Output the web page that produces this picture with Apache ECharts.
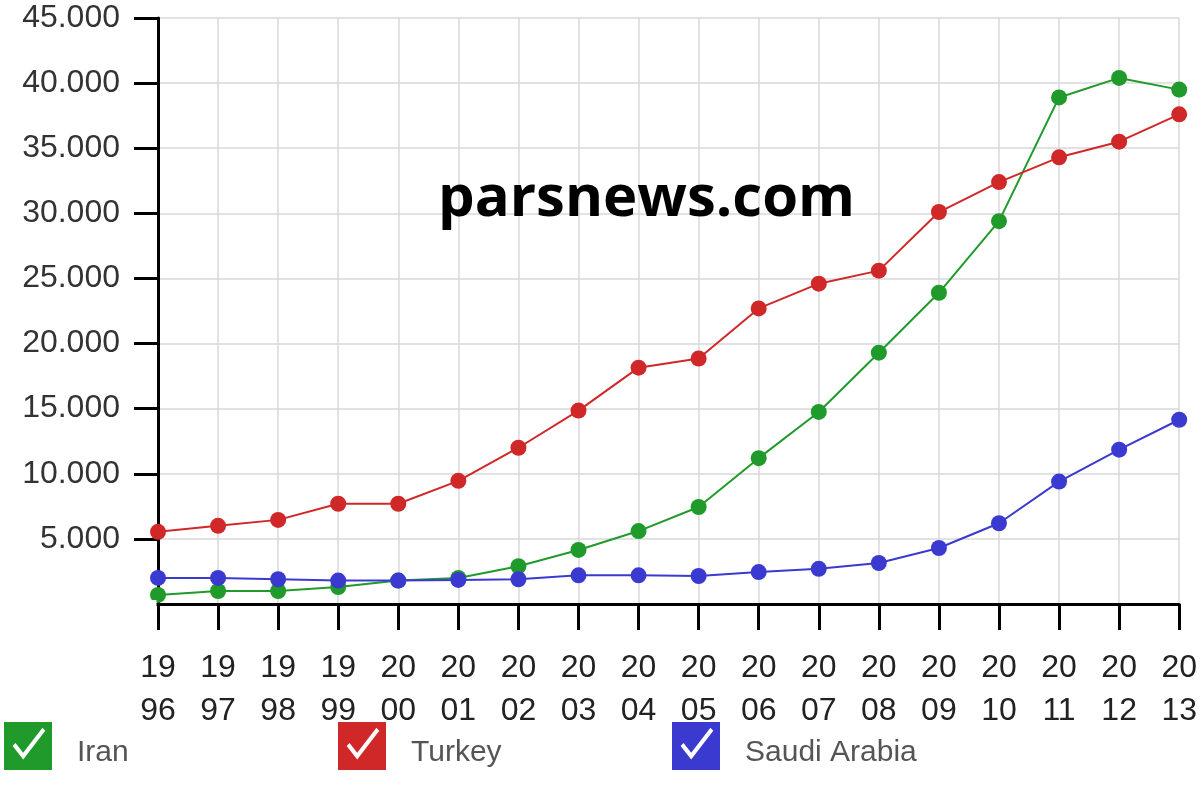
<!DOCTYPE html>
<html>
<head>
<meta charset="utf-8">
<script src="https://cdn.jsdelivr.net/npm/echarts@6/dist/echarts.min.js"></script>
<style>html,body{margin:0;padding:0;background:#fff}#c{width:1200px;height:794px}</style>
</head>
<body>
<div id="c"></div>
<script>
const years = ['1996','1997','1998','1999','2000','2001','2002','2003','2004','2005','2006','2007','2008','2009','2010','2011','2012','2013'];
const iran = [700,1000,1000,1300,1800,2000,2900,4150,5600,7450,11200,14750,19300,23900,29400,38900,40400,39500];
const turkey = [5540,6000,6460,7700,7700,9460,12000,14850,18150,18850,22700,24600,25600,30100,32400,34300,35500,37600];
const saudi = [2000,2000,1900,1800,1800,1850,1900,2200,2200,2150,2450,2700,3150,4300,6200,9400,11850,14150];
const seriesNames = ['Iran','Turkey','Saudi Arabia'];
const colors = ['#1f9a2b','#d02828','#3a3ad0'];

const checkIcon = 'path://M0,0H100V100H0Z M18,50 L40,78 L86,18 L80,12 L40,64 L24,44Z';

const chart = echarts.init(document.getElementById('c'), null, {renderer:'canvas'});
const mkSeries = (name, data, color) => ({
  name, type:'line', data,
  symbol:'circle', symbolSize:16,
  itemStyle:{color},
  lineStyle:{color, width:2},
  emphasis:{disabled:true},
  animation:false
});
const mkLegend = (name, left) => ({
  data:[{name, icon:checkIcon}],
  left, top:717, orient:'horizontal',
  itemWidth:48, itemHeight:48,
  selectedMode:false,
  formatter: n => '{t|' + n + '}',
  textStyle:{
    fontFamily:'Liberation Sans, Arial, sans-serif', fontSize:30, color:'#555',
    rich:{t:{fontFamily:'Liberation Sans, Arial, sans-serif', fontSize:30, color:'#555', padding:[14,0,0,20]}}
  }
});
chart.setOption({
  backgroundColor:'#fff',
  animation:false,
  color:colors,
  grid:{left:158, right:20, top:18, bottom:190, containLabel:false},
  xAxis:{
    type:'category', data:years, boundaryGap:false,
    axisLine:{lineStyle:{color:'#000', width:3}},
    axisTick:{show:true, alignWithLabel:true, length:26, lineStyle:{color:'#000', width:3}},
    axisLabel:{
      margin:43, fontSize:32, lineHeight:43, color:'#222',
      fontFamily:'Liberation Sans, Arial, sans-serif',
      formatter:v => v.slice(0,2)+'\n'+v.slice(2)
    },
    splitLine:{show:true, lineStyle:{color:'#d8d8d8', width:1.5}}
  },
  yAxis:{
    type:'value', min:0, max:45000, interval:5000,
    axisLine:{show:true, lineStyle:{color:'#000', width:3}},
    axisTick:{show:true, length:24, lineStyle:{color:'#000', width:3}},
    axisLabel:{
      margin:38, fontSize:32, color:'#333',
      fontFamily:'Liberation Sans, Arial, sans-serif',
      formatter:v => v === 0 ? '' : (v/1000)+'.000'
    },
    splitLine:{show:true, lineStyle:{color:'#d8d8d8', width:1.5}}
  },
  legend:[mkLegend(seriesNames[0],-1), mkLegend(seriesNames[1],333), mkLegend(seriesNames[2],667)],
  graphic:{
    elements:[
      {
        type:'text', left:438, top:170, z:100,
        style:{text:'parsnews.com', fontFamily:'Open Sans, sans-serif', fontWeight:'bold', fontSize:58, fill:'#000'}
      },
      {
        type:'rect', x:120, y:600, z:200, zlevel:1, silent:true,
        shape:{x:0, y:0, width:36.5, height:8},
        style:{fill:'#ffffff'}
      }
    ]
  },
  series:[
    mkSeries(seriesNames[0], iran, colors[0]),
    mkSeries(seriesNames[1], turkey, colors[1]),
    mkSeries(seriesNames[2], saudi, colors[2])
  ]
});
</script>
</body>
</html>
